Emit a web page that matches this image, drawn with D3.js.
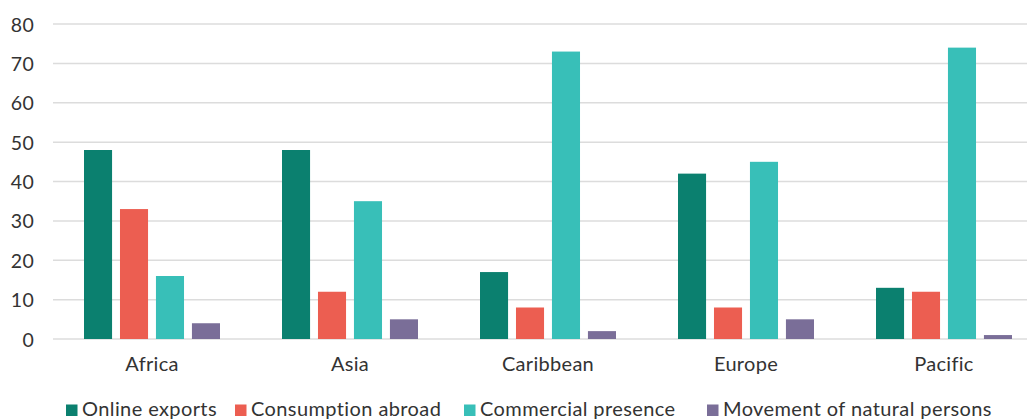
<!DOCTYPE html>
<html>
<head>
<meta charset="utf-8">
<script src="https://cdn.jsdelivr.net/npm/d3@7"></script>
<style>
  html, body { margin: 0; padding: 0; background: #fff; }
  svg { display: block; }
  text { font-family: Lato, "Noto Sans", sans-serif; fill: #333; }
</style>
</head>
<body>
<svg id="chart" width="1027" height="419"></svg>
<script>
// Regions along the x axis
const regions = ["Africa", "Asia", "Caribbean", "Europe", "Pacific"];

// Modes of supply (series)
const seriesNames = ["Online exports", "Consumption abroad", "Commercial presence", "Movement of natural persons"];
const seriesColors = ["#0b806f", "#ec5e51", "#38bfb8", "#7a6e98"];

// Values per series, in region order
const onlineExports = [48, 48, 17, 42, 13];
const consumptionAbroad = [33, 12, 8, 8, 12];
const commercialPresence = [16, 35, 73, 45, 74];
const movementOfPersons = [4, 5, 2, 5, 1];

// Y axis ticks
const yTicks = [0, 10, 20, 30, 40, 50, 60, 70, 80];

const seriesValues = [onlineExports, consumptionAbroad, commercialPresence, movementOfPersons];

const svg = d3.select("#chart");
const plotLeft = 53, plotRight = 1043, plotTop = 24, plotBottom = 339;

const x = d3.scaleBand()
  .domain(regions)
  .range([plotLeft, plotRight]);

const xInner = d3.scaleBand()
  .domain(seriesNames)
  .range([31, x.bandwidth() - 31])
  .paddingInner(0.22);

const y = d3.scaleLinear()
  .domain([0, 80])
  .range([plotBottom, plotTop]);

// Gridlines
svg.append("g")
  .selectAll("line")
  .data(yTicks)
  .join("line")
  .attr("x1", plotLeft)
  .attr("x2", plotRight)
  .attr("y1", d => y(d))
  .attr("y2", d => y(d))
  .attr("stroke", "#dcdcdc")
  .attr("stroke-width", 1.5);

// Y axis labels
const yAxis = d3.axisLeft(y).tickValues(yTicks).tickSize(0).tickPadding(0);
svg.append("g")
  .attr("transform", "translate(34,0)")
  .call(yAxis)
  .call(g => g.select(".domain").remove())
  .call(g => g.selectAll("text")
    .attr("font-size", 19.5)
    .attr("font-family", "Lato, 'Noto Sans', sans-serif")
    .attr("fill", "#333")
    .attr("letter-spacing", "0.3px")
    .attr("dy", "0.36em"));

// Bars
const groups = svg.append("g")
  .selectAll("g")
  .data(regions)
  .join("g")
  .attr("transform", d => `translate(${x(d)},0)`);

groups.selectAll("rect")
  .data((r, i) => seriesNames.map((s, k) => ({ series: s, value: seriesValues[k][i], color: seriesColors[k] })))
  .join("rect")
  .attr("x", d => xInner(d.series))
  .attr("width", xInner.bandwidth())
  .attr("y", d => y(d.value))
  .attr("height", d => y(0) - y(d.value))
  .attr("fill", d => d.color);

// X axis labels
const xAxis = d3.axisBottom(x).tickSize(0).tickPadding(0);
svg.append("g")
  .attr("transform", `translate(0,${plotBottom})`)
  .call(xAxis)
  .call(g => g.select(".domain").remove())
  .call(g => g.selectAll("text")
    .attr("font-size", 20)
    .attr("font-family", "Lato, 'Noto Sans', sans-serif")
    .attr("fill", "#333")
    .attr("letter-spacing", "0.3px")
    .attr("dy", "1.62em"));

// Legend
const legendX = [66, 235, 464, 707];
const legend = svg.append("g").attr("transform", "translate(0,416)");
seriesNames.forEach((name, k) => {
  const item = legend.append("g").attr("transform", `translate(${legendX[k]},0)`);
  item.append("rect")
    .attr("x", 0).attr("y", -11.5)
    .attr("width", 11.5).attr("height", 11.5)
    .attr("fill", seriesColors[k]);
  item.append("text")
    .attr("x", 16).attr("y", 0)
    .attr("font-size", 20)
    .attr("letter-spacing", "0.4px")
    .text(name);
});
</script>
</body>
</html>
